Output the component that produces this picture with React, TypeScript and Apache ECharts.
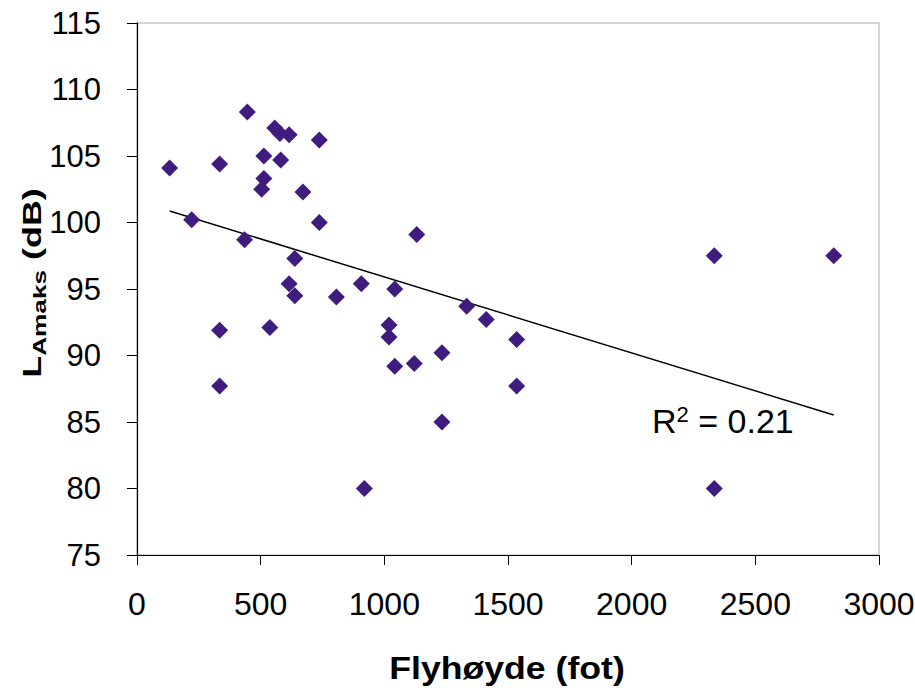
import React, { useEffect, useRef } from "react";
import * as echarts from "echarts";

const altitudeFt: number[] = [
  132, 221, 334, 334, 334, 446, 435, 513, 513, 504, 537, 557, 578, 581, 615, 737,
  671, 737, 638, 615, 638, 806, 907, 919, 1019, 1019, 1042, 1042, 1121, 1131, 1233,
  1233, 1333, 1412, 1535, 1535, 2334, 2334, 2817,
];
const levelDb: number[] = [
  104.1, 100.2, 104.4, 91.9, 87.7, 108.3, 98.7, 105.0, 103.3, 102.5, 92.1, 107.1,
  106.7, 104.7, 106.6, 106.2, 102.3, 100.0, 97.3, 95.4, 94.5, 94.4, 95.4, 80.0, 92.3,
  91.4, 95.0, 89.2, 89.4, 99.1, 90.2, 85.0, 93.7, 92.7, 91.2, 87.7, 97.5, 80.0, 97.5,
];
const xTicks = { min: 0, max: 3000, interval: 500 };
const yTicks = { min: 75, max: 115, interval: 5 };
const r2Label = "0.21";

const FONT = "'Liberation Sans', Arial, sans-serif";

function linearFit(xs: number[], ys: number[]) {
  const n = xs.length;
  const mx = xs.reduce((a, b) => a + b, 0) / n;
  const my = ys.reduce((a, b) => a + b, 0) / n;
  let sxy = 0;
  let sxx = 0;
  for (let i = 0; i < n; i++) {
    sxy += (xs[i] - mx) * (ys[i] - my);
    sxx += (xs[i] - mx) * (xs[i] - mx);
  }
  const b = sxy / sxx;
  const a = my - b * mx;
  return { a, b };
}

export default function App() {
  const ref = useRef<HTMLDivElement>(null);
  useEffect(() => {
    if (!ref.current) return;
    const chart = echarts.init(ref.current, undefined, { renderer: "svg" });
    const points = altitudeFt.map((x, i) => [x, levelDb[i]]);
    const { a, b } = linearFit(altitudeFt, levelDb);
    const xMin = Math.min(...altitudeFt);
    const xMax = Math.max(...altitudeFt);
    const trend = [
      [xMin, a + b * xMin],
      [xMax, a + b * xMax],
    ];
    chart.setOption({
      animation: false,
      backgroundColor: "#ffffff",
      textStyle: { fontFamily: FONT },
      grid: {
        left: 137,
        right: 36,
        top: 23,
        bottom: 133,
        containLabel: false,
        outerBoundsMode: "none",
        show: true,
        borderColor: "#c8c8c8",
        borderWidth: 1.5,
        backgroundColor: "#ffffff",
      },
      xAxis: {
        type: "value",
        min: xTicks.min,
        max: xTicks.max,
        interval: xTicks.interval,
        splitLine: { show: false },
        axisLine: { show: true, onZero: false, lineStyle: { color: "#000", width: 1.2 } },
        axisTick: { show: true, inside: false, length: 10, lineStyle: { color: "#000", width: 1 } },
        axisLabel: {
          color: "#000",
          fontSize: 32,
          margin: 33,
          fontFamily: FONT,
          formatter: (v: number) => String(v),
        },
      },
      yAxis: {
        type: "value",
        min: yTicks.min,
        max: yTicks.max,
        interval: yTicks.interval,
        splitLine: { show: false },
        axisLine: { show: true, onZero: false, lineStyle: { color: "#000", width: 1.2 } },
        axisTick: { show: true, inside: false, length: 10, lineStyle: { color: "#000", width: 1 } },
        axisLabel: {
          color: "#000",
          fontSize: 31,
          margin: 36,
          fontFamily: FONT,
          formatter: (v: number) => String(v),
        },
      },
      graphic: [
        {
          type: "text",
          x: 507,
          y: 668,
          scaleX: 1.15,
          style: {
            text: "Flyhøyde (fot)",
            fontFamily: FONT,
            fontSize: 31,
            fontWeight: "bold",
            fill: "#000",
            align: "center",
            verticalAlign: "middle",
          },
        },
        {
          type: "text",
          x: 32,
          y: 283,
          rotation: Math.PI / 2,
          scaleX: 1.38,
          style: {
            text: "{L|L}{s|Amaks}{p| (dB)}",
            align: "center",
            verticalAlign: "middle",
            fill: "#000",
            rich: {
              L: { fontFamily: FONT, fontSize: 26, fontWeight: "bold", lineHeight: 34, verticalAlign: "middle", fill: "#000" },
              s: { fontFamily: FONT, fontSize: 19, fontWeight: "bold", lineHeight: 34, verticalAlign: "bottom", fill: "#000" },
              p: { fontFamily: FONT, fontSize: 26, fontWeight: "bold", lineHeight: 34, verticalAlign: "middle", fill: "#000" },
            },
          },
        },
        {
          type: "text",
          x: 652,
          y: 421,
          style: {
            text: "{r|R}{sup|2}{r| = " + r2Label + "}",
            align: "left",
            verticalAlign: "middle",
            fill: "#000",
            rich: {
              r: { fontFamily: FONT, fontSize: 34, lineHeight: 40, verticalAlign: "middle", fill: "#000" },
              sup: { fontFamily: FONT, fontSize: 22, lineHeight: 40, verticalAlign: "top", fill: "#000", padding: [2, 0, 0, 0] },
            },
          },
        },
      ],
      series: [
        {
          type: "line",
          data: trend,
          showSymbol: false,
          symbol: "none",
          lineStyle: { color: "#000", width: 1.5 },
          silent: true,
          z: 3,
        },
        {
          type: "scatter",
          data: points,
          symbol: "diamond",
          symbolSize: 17,
          itemStyle: { color: "#3F1C7E", opacity: 1 },
          z: 4,
        },
      ],
    });
    return () => chart.dispose();
  }, []);
  return (
    <div
      ref={ref}
      style={{ position: "fixed", left: 0, top: 0, width: 915, height: 688 }}
    />
  );
}
